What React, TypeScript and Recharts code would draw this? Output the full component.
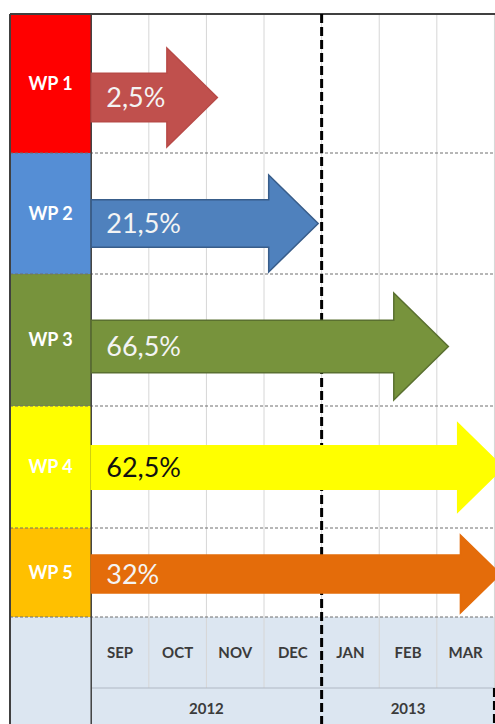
import React from "react";
import { ComposedChart, XAxis, YAxis, ReferenceArea, ReferenceLine, Scatter } from "recharts";

// work packages and their progress
const PACKAGES = ["WP 1", "WP 2", "WP 3", "WP 4", "WP 5"];
const PROGRESS = [2.5, 21.5, 66.5, 62.5, 32];
// where each arrow tip lands, in months counted from the start of SEP 2012
const ARROW_END = [2.19, 3.94, 6.2, 7.15, 7.1];

const MONTHS = ["SEP", "OCT", "NOV", "DEC", "JAN", "FEB", "MAR"];
const YEARS = ["2012", "2013"];
const YEAR_START = [0, 4];
const YEAR_END = [4, 7];
const TODAY = 4; // DEC / JAN boundary

// table layout (y units, top of table = 0)
const ROW_EDGES = [0, 139, 260, 392, 514, 603];
const ARROW_MID = [83.5, 209.5, 332.5, 453.5, 560];
const ARROW_SIZE = [99, 97, 107, 89, 78];
const MONTH_ROW = [603, 674];
const YEAR_ROW = [674, 716];

const LABEL_FILL = ["#FF0000", "#558ED5", "#77933C", "#FFFF00", "#FFC000"];
const ARROW_FILL = ["#C0504D", "#4F81BD", "#77933C", "#FFFF00", "#E46C0A"];
const ARROW_STROKE = ["#B84A47", "#385D8A", "#5A7030", "#FFFF00", "#E46C0A"];
const ARROW_TEXT = ["#F4F4F4", "#F4F4F4", "#F4F4F4", "#111111", "#F4F4F4"];

const rows = PACKAGES.map((wp, i) => ({ wp, end: ARROW_END[i], mid: ARROW_MID[i] }));

const X_MIN = -1.41;
const X_MAX = 7.6;
const MONTH_PX = 57.57;
const Y_MAX = 720;
const CHART_W = Math.round(10 + (X_MAX - X_MIN) * MONTH_PX);
const CHART_H = 14 + Y_MAX;

const FONT = "Lato, 'Open Sans', sans-serif";
const HEADER_BG = "#DCE6F1";
const HEADER_TEXT = "#3B3B3B";
const BORDER = "#404040";

const fmt = (v: number) => `${String(v).replace(".", ",")}%`;

const Arrow = (props: any) => {
  const { x, y, width, height, fill, stroke } = props;
  const head = height * 0.51;
  const shaft = height * 0.49;
  const mid = y + height / 2;
  const hx = x + width - head;
  const pts = [
    [x, mid - shaft / 2],
    [hx, mid - shaft / 2],
    [hx, y],
    [x + width, mid],
    [hx, y + height],
    [hx, mid + shaft / 2],
    [x, mid + shaft / 2],
  ]
    .map((p) => p.join(","))
    .join(" ");
  return <polygon points={pts} fill={fill} stroke={stroke} strokeWidth={1.5} />;
};

const vline = (x: number, y1: number, y2: number) => [
  { x, y: y1 },
  { x, y: y2 },
];
const hline = (y: number, x1: number, x2: number) => [
  { x: x1, y },
  { x: x2, y },
];

export default function App() {
  return (
    <div
      style={{
        position: "absolute",
        left: 0,
        top: 0,
        width: 495,
        height: 724,
        overflow: "hidden",
        background: "#fff",
      }}
    >
      <ComposedChart
        width={CHART_W}
        height={CHART_H}
        data={rows}
        margin={{ top: 14, left: 10, right: 0, bottom: 0 }}
      >
        <XAxis type="number" dataKey="end" domain={[X_MIN, X_MAX]} hide allowDataOverflow />
        <YAxis type="number" dataKey="mid" domain={[0, Y_MAX]} reversed hide allowDataOverflow />

        {/* header background */}
        <ReferenceArea
          x1={X_MIN}
          x2={X_MAX}
          y1={MONTH_ROW[0]}
          y2={YEAR_ROW[1]}
          fill={HEADER_BG}
          fillOpacity={1}
          stroke="none"
        />

        {/* work package label cells */}
        {PACKAGES.map((wp, i) => (
          <ReferenceArea
            key={wp}
            x1={X_MIN}
            x2={0}
            y1={ROW_EDGES[i]}
            y2={ROW_EDGES[i + 1]}
            fill={LABEL_FILL[i]}
            fillOpacity={1}
            stroke="none"
            label={{
              value: wp,
              position: "center",
              fill: "#FFFFFF",
              fontSize: 18,
              fontWeight: 700,
              fontFamily: FONT,
            }}
          />
        ))}

        {/* month grid */}
        {MONTHS.map((m, i) => (
          <ReferenceLine
            key={"g" + m}
            segment={vline(i + 1, 0, MONTH_ROW[1])}
            stroke="#D6D6D6"
            strokeWidth={1}
          />
        ))}
        <ReferenceLine segment={hline(YEAR_ROW[0], 0, X_MAX)} stroke="#B0B8C4" strokeWidth={1} />

        {/* row separators */}
        {ROW_EDGES.slice(1).map((e) => (
          <ReferenceLine
            key={"r" + e}
            segment={hline(e, X_MIN, X_MAX)}
            stroke="#6E6E6E"
            strokeDasharray="3 2"
            strokeWidth={1}
          />
        ))}

        {/* borders */}
        <ReferenceLine segment={hline(0, X_MIN, X_MAX)} stroke={BORDER} strokeWidth={2} />
        <ReferenceLine segment={vline(X_MIN, 0, Y_MAX)} stroke={BORDER} strokeWidth={2} />
        <ReferenceLine segment={vline(0, 0, Y_MAX)} stroke={BORDER} strokeWidth={1.5} />

        {/* month and year labels */}
        {MONTHS.map((m, i) => (
          <ReferenceArea
            key={m}
            x1={i}
            x2={i + 1}
            y1={MONTH_ROW[0]}
            y2={MONTH_ROW[1]}
            fill="none"
            stroke="none"
            label={{
              value: m,
              position: "center",
              fill: HEADER_TEXT,
              fontSize: 15,
              fontWeight: 700,
              fontFamily: FONT,
            }}
          />
        ))}
        {YEARS.map((yr, i) => (
          <ReferenceArea
            key={yr}
            x1={YEAR_START[i]}
            x2={YEAR_END[i]}
            y1={YEAR_ROW[0]}
            y2={YEAR_ROW[1]}
            fill="none"
            stroke="none"
            label={{
              value: yr,
              position: "center",
              fill: HEADER_TEXT,
              fontSize: 15,
              fontWeight: 700,
              fontFamily: FONT,
            }}
          />
        ))}

        {/* today marker and year boundary */}
        <ReferenceLine
          segment={vline(TODAY, 0, Y_MAX)}
          stroke="#000000"
          strokeWidth={3}
          strokeDasharray="9 4"
        />
        <ReferenceLine
          segment={vline(YEAR_END[1], YEAR_ROW[0], Y_MAX)}
          stroke="#000000"
          strokeWidth={3}
          strokeDasharray="9 4"
        />

        {/* progress arrows, drawn over the marker */}
        {PACKAGES.map((wp, i) => (
          <ReferenceArea
            key={"a" + wp}
            zIndex={1000}
            x1={0}
            x2={ARROW_END[i]}
            y1={ARROW_MID[i] - ARROW_SIZE[i] / 2}
            y2={ARROW_MID[i] + ARROW_SIZE[i] / 2}
            fill={ARROW_FILL[i]}
            fillOpacity={1}
            stroke={ARROW_STROKE[i]}
            shape={(p: any) => <Arrow {...p} />}
            label={{
              value: fmt(PROGRESS[i]),
              position: "insideLeft",
              offset: 15,
              fill: ARROW_TEXT[i],
              fontSize: 27,
              fontFamily: FONT,
            }}
          />
        ))}

        {/* arrow tips as data anchors */}
        <Scatter dataKey="mid" isAnimationActive={false} shape={() => <g />} />
      </ComposedChart>
    </div>
  );
}
